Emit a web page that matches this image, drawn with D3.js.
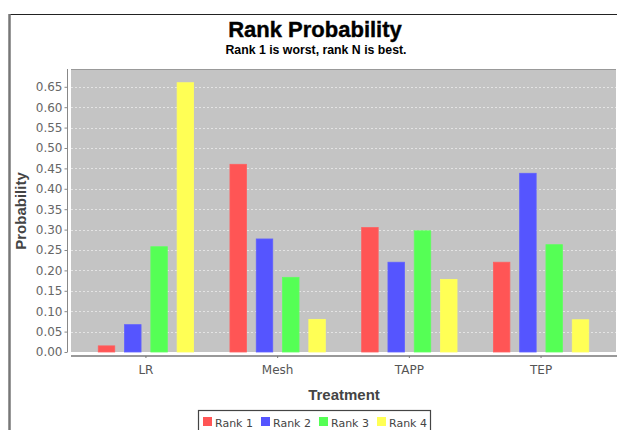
<!DOCTYPE html>
<html><head><meta charset="utf-8">
<script src="https://cdn.jsdelivr.net/npm/d3@7"></script>
<style>body{margin:0;background:#fff}svg{display:block}</style>
</head><body>
<svg id="c" width="617" height="430"></svg>
<script>
const categories = ["LR", "Mesh", "TAPP", "TEP"];
const seriesNames = ["Rank 1", "Rank 2", "Rank 3", "Rank 4"];
const rank1 = [0.015, 0.460, 0.305, 0.220];
const rank2 = [0.067, 0.277, 0.220, 0.438];
const rank3 = [0.258, 0.183, 0.297, 0.263];
const rank4 = [0.660, 0.080, 0.178, 0.079];
const yTicks = [0,0.05,0.10,0.15,0.20,0.25,0.30,0.35,0.40,0.45,0.50,0.55,0.60,0.65];
const colors = ["#FF5555", "#5555FF", "#55FF55", "#FFFF55"];
const series = [rank1, rank2, rank3, rank4];

const svg = d3.select("#c");
const L = 71, R = 616, T = 69, B = 352;

// outer frame
svg.append("rect").attr("x",9.5).attr("y",14.5).attr("width",640).attr("height",440)
  .attr("fill","#fff").attr("stroke","#222").attr("stroke-width",1);
svg.append("line").attr("x1",9.5).attr("x2",9.5).attr("y1",14).attr("y2",430).attr("stroke","#777").attr("stroke-width",2.5);

// titles
svg.append("text").attr("x",315).attr("y",37).attr("text-anchor","middle")
  .attr("font-family","Liberation Sans, Arial, sans-serif").attr("font-weight","bold").attr("font-size",22)
  .attr("fill","#000").attr("stroke","#000").attr("stroke-width",0.4).text("Rank Probability");
svg.append("text").attr("x",316).attr("y",54).attr("text-anchor","middle")
  .attr("font-family","Liberation Sans, Arial, sans-serif").attr("font-weight","bold").attr("font-size",12.3)
  .attr("fill","#000").text("Rank 1 is worst, rank N is best.");

const y = d3.scaleLinear().domain([0, 0.6936]).range([B, T]);
const x0 = d3.scaleBand().domain(categories).range([L, R]).paddingInner(0.276).paddingOuter(0.207);
const x1 = d3.scaleBand().domain(seriesNames).range([0, x0.bandwidth()]).paddingInner(0.373).paddingOuter(0);

// plot background
svg.append("rect").attr("x",L).attr("y",T).attr("width",R-L).attr("height",B-T).attr("fill","#C4C4C4");
svg.append("line").attr("x1",L).attr("x2",R).attr("y1",T+0.5).attr("y2",T+0.5).attr("stroke","#999").attr("stroke-width",1);

// gridlines
svg.append("g").selectAll("line").data(yTicks.filter(d=>d>0)).join("line")
  .attr("x1",L).attr("x2",R).attr("y1",d=>Math.round(y(d))+0.5).attr("y2",d=>Math.round(y(d))+0.5)
  .attr("stroke","#ffffff").attr("stroke-opacity",0.55).attr("stroke-width",1).attr("stroke-dasharray","2,2");

// bars
const g = svg.append("g");
categories.forEach((c, ci) => {
  series.forEach((s, si) => {
    const v = s[ci];
    g.append("rect")
      .attr("x", x0(c) + x1(seriesNames[si]))
      .attr("y", y(v))
      .attr("width", x1.bandwidth())
      .attr("height", B - y(v))
      .attr("fill", colors[si])
      .attr("stroke", d3.color(colors[si]).brighter(0.3))
      .attr("stroke-width", 0.8);
  });
});

// y axis
const yAxis = d3.axisLeft(y).tickValues(yTicks).tickFormat(d3.format(".2f")).tickSize(3).tickSizeOuter(0);
const ya = svg.append("g").attr("transform",`translate(67.5,0)`).call(yAxis);
ya.select(".domain").attr("stroke","#888").attr("d",`M0,${T}V${B}`);
ya.selectAll(".tick line").attr("stroke","#888");
ya.selectAll("text").attr("font-family","DejaVu Sans, sans-serif").attr("font-size",12).attr("fill","#666").attr("x",-5);

// x axis
const xAxis = d3.axisBottom(x0).tickSize(2).tickSizeOuter(0);
const xa = svg.append("g").attr("transform",`translate(0,356)`).call(xAxis);
xa.select(".domain").attr("stroke","#999").attr("stroke-width",2).attr("d",`M${L},0H${R+4}`);
xa.selectAll(".tick line").attr("stroke","#777");
xa.selectAll("text").attr("font-family","DejaVu Sans, sans-serif").attr("font-size",12).attr("fill","#555").attr("y",9);

// axis labels
svg.append("text").attr("transform",`translate(26,211) rotate(-90)`).attr("text-anchor","middle")
  .attr("font-family","Liberation Sans, Arial, sans-serif").attr("font-weight","bold").attr("font-size",15)
  .attr("fill","#444").text("Probability");
svg.append("text").attr("x",344).attr("y",400).attr("text-anchor","middle")
  .attr("font-family","Liberation Sans, Arial, sans-serif").attr("font-weight","bold").attr("font-size",15)
  .attr("fill","#444").text("Treatment");

// legend
const lg = svg.append("g");
lg.append("rect").attr("x",198.5).attr("y",410.5).attr("width",232).attr("height",26)
  .attr("fill","#fff").attr("stroke","#444").attr("stroke-width",1.2);
seriesNames.forEach((n, i) => {
  const lx = 203 + i*58;
  lg.append("rect").attr("x",lx).attr("y",417).attr("width",9).attr("height",9).attr("fill",colors[i]);
  lg.append("text").attr("x",lx+12).attr("y",426.5).attr("font-family","DejaVu Sans, sans-serif")
    .attr("font-size",11).attr("fill","#444").text(n);
});
</script>
</body></html>
